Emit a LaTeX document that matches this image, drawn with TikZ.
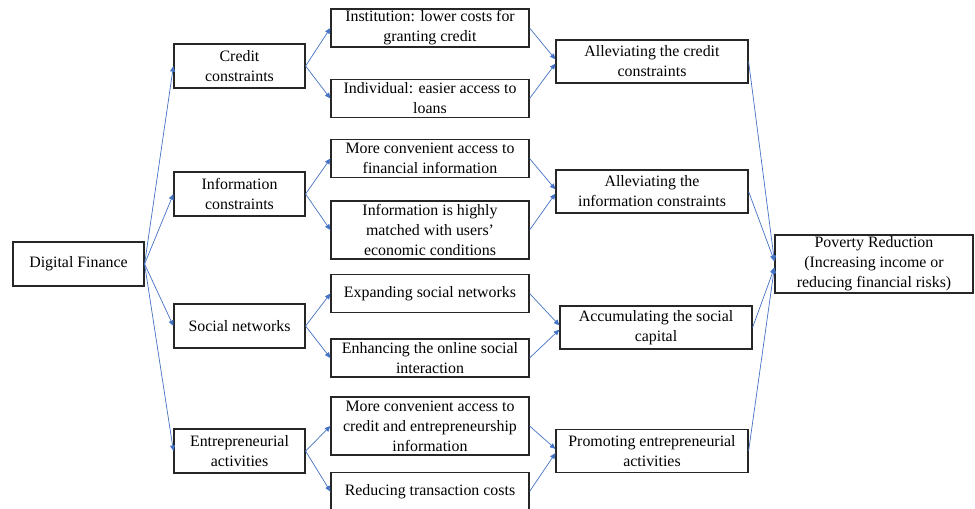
\documentclass[tikz,border=0pt]{standalone}
\usepackage{fontspec}
\setmainfont{Liberation Serif}
\usetikzlibrary{arrows.meta}
\definecolor{linkblue}{RGB}{68,114,196}
\begin{document}
\begin{tikzpicture}[x=0.025cm,y=-0.025cm,
    box/.style={draw=black!85,line width=0.8pt,align=center,inner sep=1pt,
      font=\fontsize{11.3}{14.2}\selectfont},
    driver/.style={box,minimum width=3.275cm,minimum height=1.1cm},
    channel/.style={box,minimum width=4.95cm,minimum height=0.95cm},
    effect/.style={box,minimum width=4.8cm,minimum height=1.075cm},
    link/.style={linkblue,line width=0.5pt,-{Triangle[length=4pt,width=3.5pt]}}]
  \useasboundingbox (0,0) rectangle (975,508);
  % source and the four mechanisms
  \node[driver] (df) at (78.5,264) {Digital Finance};
  \node[driver] (credit) at (239.5,66) {Credit\\constraints};
  \node[driver] (info) at (239.5,194) {Information\\constraints};
  \node[driver] (social) at (239.5,326) {Social networks};
  \node[driver] (entre) at (239.5,451) {Entrepreneurial\\activities};
  % channels
  \node[channel] (inst) at (430,28) {Institution: lower costs for\\granting credit};
  \node[channel] (indiv) at (430,98.5) {Individual: easier access to\\loans};
  \node[channel] (finfo) at (430,158.5) {More convenient access to\\financial information};
  \node[channel,minimum height=1.45cm] (match) at (430,230) {Information is highly\\matched with users'\\economic conditions};
  \node[channel] (expand) at (430,293.5) {Expanding social networks};
  \node[channel] (online) at (430,358) {Enhancing the online social\\interaction};
  \node[channel,minimum height=1.45cm] (cinfo) at (430,426) {More convenient access to\\credit and entrepreneurship\\information};
  \node[channel] (trans) at (430,491.5) {Reducing transaction costs};
  % effects
  \node[effect] (acred) at (652,61.5) {Alleviating the credit\\constraints};
  \node[effect] (ainfo) at (652,191.5) {Alleviating the\\information constraints};
  \node[effect] (acap) at (656,327.5) {Accumulating the social\\capital};
  \node[effect] (aent) at (652,451) {Promoting entrepreneurial\\activities};
  \node[box,minimum width=4.95cm,minimum height=1.45cm] (pov) at (874,264)
    {Poverty Reduction\\(Increasing income or\\reducing financial risks)};
  % arrows
  \draw[link] (df.east) -- (credit.west);
  \draw[link] (df.east) -- (info.west);
  \draw[link] (df.east) -- (social.west);
  \draw[link] (df.east) -- (entre.west);
  \draw[link] (credit.east) -- (inst.west);
  \draw[link] (credit.east) -- (indiv.west);
  \draw[link] (info.east) -- (finfo.west);
  \draw[link] (info.east) -- (match.west);
  \draw[link] (social.east) -- (expand.west);
  \draw[link] (social.east) -- (online.west);
  \draw[link] (entre.east) -- (cinfo.west);
  \draw[link] (entre.east) -- (trans.west);
  \draw[link] (inst.east) -- ([yshift=1.5pt]acred.west);
  \draw[link] (indiv.east) -- ([yshift=-1.5pt]acred.west);
  \draw[link] (finfo.east) -- ([yshift=1.5pt]ainfo.west);
  \draw[link] (match.east) -- ([yshift=-1.5pt]ainfo.west);
  \draw[link] (expand.east) -- ([yshift=1.5pt]acap.west);
  \draw[link] (online.east) -- ([yshift=-1.5pt]acap.west);
  \draw[link] (cinfo.east) -- ([yshift=1.5pt]aent.west);
  \draw[link] (trans.east) -- ([yshift=-1.5pt]aent.west);
  \draw[link] (acred.east) -- ([yshift=2pt]pov.west);
  \draw[link] (ainfo.east) -- ([yshift=2pt]pov.west);
  \draw[link] (acap.east) -- ([yshift=-2.5pt]pov.west);
  \draw[link] (aent.east) -- ([yshift=-2.5pt]pov.west);
\end{tikzpicture}
\end{document}
